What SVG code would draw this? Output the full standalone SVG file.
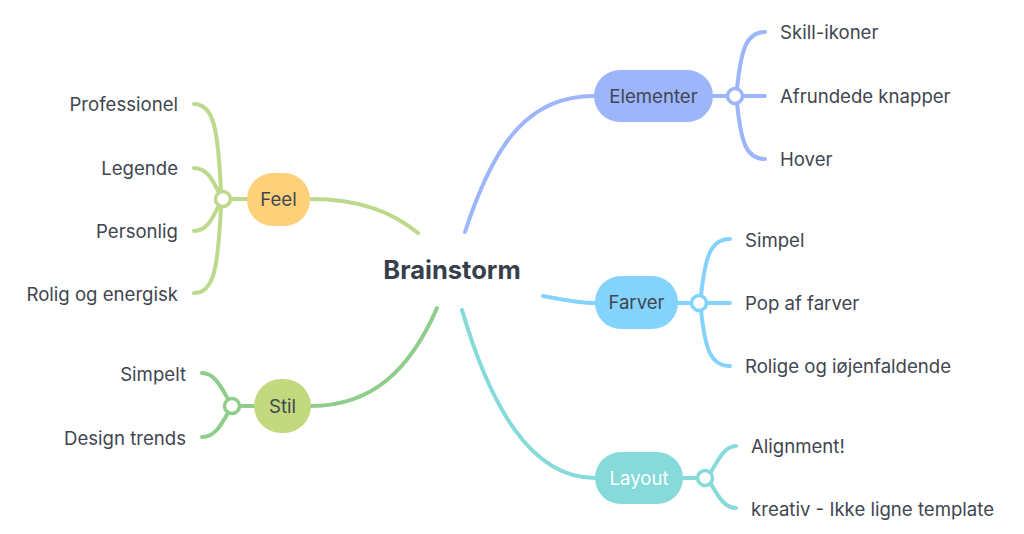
<svg xmlns="http://www.w3.org/2000/svg" width="1024" height="534" viewBox="0 0 1024 534">
<style>
.c{fill:none;stroke-width:4;stroke-linecap:round}
.t{font-family:Inter,"Noto Sans",sans-serif;font-size:18.6px;fill:#3f4651}
.n{font-family:Inter,"Noto Sans",sans-serif;font-size:18.6px;fill:#3f4651;text-anchor:middle}
.j{fill:#fff;stroke-width:3.5}
.blue{stroke:#9db5fb}.green{stroke:#bcd98c}.stil{stroke:#8ecd8c}.sky{stroke:#84d3fd}.teal{stroke:#86dada}
</style>
<rect width="1024" height="534" fill="#fff"/>
<g id="connectors">
<path class="c blue" d="M465,232 C495,140 530,96 594,96"/>
<path class="c green" d="M310,199 C360,199 392,212 418,233"/>
<path class="c stil" d="M311,406 C372,406 410,370 437,308"/>
<path class="c sky" d="M543,296 C565,300 578,303 595,303"/>
<path class="c teal" d="M462,310 C490,405 530,478 595,478"/>
<path class="c blue" d="M713,96 H727 M743,96 H765 M737,89 C741,50 746,32 765,32 M737,103 C741,142 746,159 765,159"/>
<path class="c green" d="M310,199 H231 M221,191 C218,130 214,104 194,104 M219,193 C212,178 206,168 194,168 M219,205 C212,220 206,231 194,231 M221,207 C218,268 214,293 194,293"/>
<path class="c stil" d="M254,406 H240 M228,399 C220,385 214,373 202,373 M228,413 C220,427 214,437 202,437"/>
<path class="c sky" d="M678,303 H691 M707,303 H730 M701,296 C705,258 710,239 730,239 M701,310 C705,348 710,366 730,366"/>
<path class="c teal" d="M683,478 H699 M711,472 C720,456 726,446 736,446 M711,484 C720,500 726,508 736,508"/>
</g>
<g id="brainstorm"><text x="452" y="279" font-family="Inter,'Noto Sans',sans-serif" font-size="25.5" font-weight="700" fill="#36404a" text-anchor="middle">Brainstorm</text></g>
<g id="elementer"><rect x="594" y="70" width="119" height="52" rx="26" fill="#9db5fb"/><text class="n" x="653.5" y="103">Elementer</text></g>
<g id="elementer-j"><circle class="j blue" cx="735" cy="96" r="7.5"/></g>
<g id="skill"><text class="t" x="780" y="39">Skill-ikoner</text></g>
<g id="afrundede"><text class="t" x="780" y="103">Afrundede knapper</text></g>
<g id="hover"><text class="t" x="780" y="166">Hover</text></g>
<g id="feel"><rect x="247" y="173" width="63" height="53" rx="26" fill="#fed079"/><text class="n" x="278.5" y="206">Feel</text></g>
<g id="feel-j"><circle class="j green" cx="223" cy="199" r="7.5"/></g>
<g id="professionel"><text class="t" x="178" y="111" text-anchor="end">Professionel</text></g>
<g id="legende"><text class="t" x="178" y="175" text-anchor="end">Legende</text></g>
<g id="personlig"><text class="t" x="178" y="238" text-anchor="end">Personlig</text></g>
<g id="rolig"><text class="t" x="178" y="301" text-anchor="end">Rolig og energisk</text></g>
<g id="stil"><rect x="254" y="379" width="57" height="54" rx="27" fill="#c2d97f"/><text class="n" x="282.5" y="413">Stil</text></g>
<g id="stil-j"><circle class="j stil" cx="232" cy="406" r="7.5"/></g>
<g id="simpelt"><text class="t" x="186" y="381" text-anchor="end">Simpelt</text></g>
<g id="design"><text class="t" x="186" y="445" text-anchor="end">Design trends</text></g>
<g id="farver"><rect x="595" y="276" width="83" height="53" rx="26" fill="#84d3fd"/><text class="n" x="636.5" y="309">Farver</text></g>
<g id="farver-j"><circle class="j sky" cx="699" cy="303" r="7.5"/></g>
<g id="simpel"><text class="t" x="745" y="247">Simpel</text></g>
<g id="pop"><text class="t" x="745" y="310">Pop af farver</text></g>
<g id="rolige"><text class="t" x="745" y="373">Rolige og iøjenfaldende</text></g>
<g id="layout"><rect x="595" y="452" width="88" height="52" rx="26" fill="#86dada"/><text class="n" x="639" y="485" style="fill:#fff">Layout</text></g>
<g id="layout-j"><circle class="j teal" cx="705" cy="478" r="7.5"/></g>
<g id="alignment"><text class="t" x="751" y="453">Alignment!</text></g>
<g id="kreativ"><text class="t" x="751" y="516">kreativ - Ikke ligne template</text></g>
</svg>
